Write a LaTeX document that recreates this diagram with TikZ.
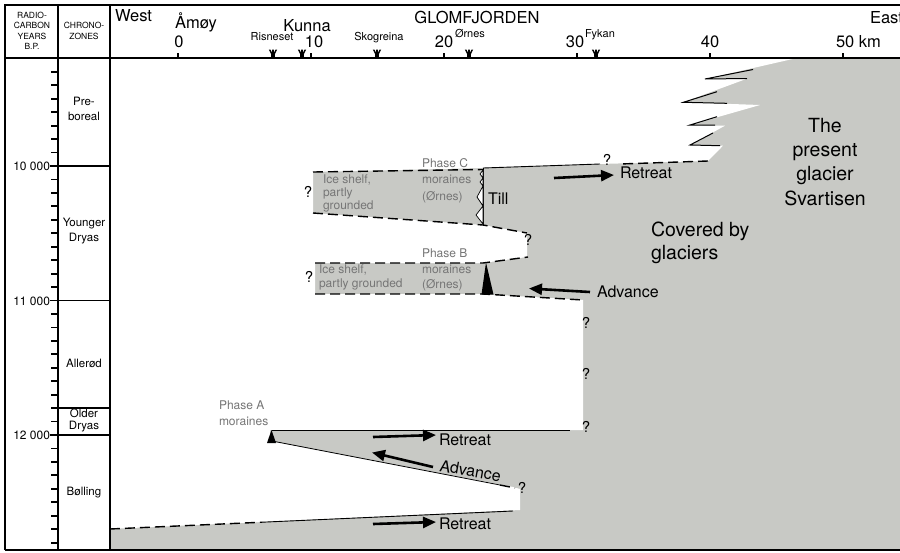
\documentclass[tikz,border=0pt]{standalone}
\usepackage{fontspec}
\setmainfont{TeX Gyre Heros}
\usetikzlibrary{arrows.meta}
\definecolor{ice}{RGB}{200,201,197}
\definecolor{softtext}{RGB}{118,118,118}
\newcommand{\fsz}[2]{\fontsize{#1}{#2}\selectfont}
\newcommand{\ytick}[1]{\fill[black] (51,#1-0.9) rectangle (58.6,#1+0.9);}
\begin{document}
\begin{tikzpicture}[x=1pt,y=-1pt,
  txt/.style={inner sep=0pt, outer sep=0pt},
  head/.style={txt, font=\fsz{16.5}{19}, anchor=base},
  place/.style={txt, font=\fsz{11}{13}, anchor=base},
  colhead/.style={txt, font=\fsz{8.5}{10.5}, align=center},
  zone/.style={txt, font=\fsz{11.5}{15}, align=center},
  year/.style={txt, font=\fsz{12}{14}, anchor=east},
  soft/.style={txt, font=\fsz{12}{14}, text=softtext, anchor=base west},
  big/.style={txt, font=\fsz{19.5}{24}, anchor=base west},
  bigc/.style={txt, font=\fsz{19.5}{24}, anchor=base},
  move/.style={txt, font=\fsz{16}{18}, anchor=base west},
  query/.style={txt, font=\fsz{15}{17}},
  frameline/.style={line width=1.3pt},
  limit/.style={line width=1.4pt, dash pattern=on 10pt off 5pt},
  front/.style={line width=0.9pt},
  bigarrow/.style={line width=2.6pt, -{Triangle[length=13pt,width=11pt]}},
  placemark/.pic={\fill (-1.6,0) -- (1.6,0) -- (2,-4.5) -- (4.2,-9) -- (2.6,-9) -- (0.8,-5.5) -- (0.8,-9) -- (-0.8,-9) -- (-0.8,-5.5) -- (-2.6,-9) -- (-4.2,-9) -- (-2,-4.5) -- cycle;}
]
\useasboundingbox (0,0) rectangle (900,552);
\fill[white] (0,0) rectangle (900,552);

% ice-covered area and ice-free area
\fill[ice] (110,58) rectangle (905,550);
\fill[white] (110,58) -- (797,58) -- (705,79) -- (748,78.3) -- (683,102.3) -- (760,105)
  -- (690,125) -- (725,125.7) -- (690,145) -- (723,145.7) -- (708,161) -- (600,164)
  -- (483,168) -- (313,172) -- (313,213) -- (483,225) -- (527,233) -- (527,257)
  -- (483,263) -- (315,263) -- (315,294) -- (483,294) -- (583,300) -- (583,430)
  -- (270,430) -- (270,441) -- (513,487) -- (520,489) -- (520,510) -- (110,529) -- cycle;

% interfingering teeth
\draw[line width=1pt] (753,69.5) -- (705,79) -- (747,78.5);
\draw[line width=1pt] (717,91.7) -- (683.3,102.3) -- (727,103.3);
\draw[line width=1pt] (717,116.7) -- (690,125) -- (715,125);
\draw[line width=1pt] (713,133) -- (690,145) -- (720,145.7);

% ice limits
\draw[limit] (708,161) -- (620,164);
\draw[front] (600,164) -- (483,168);
\draw[limit] (313,172) -- (483,169.5);
\draw[limit] (313,213) -- (483,225) -- (527,233);
\draw[front] (483,168) -- (483,225);
\draw[limit] (315,263) -- (483,263) -- (528,257);
\draw[limit] (315,294) -- (483,294) -- (583,300);
\draw[line width=0.8pt] (272,430) -- (570,430);
\draw[line width=0.8pt] (272,441) -- (500,485);
\draw[limit] (500,485) -- (515,488);
\draw[limit] (110,529) -- (262,522.2);
\draw[line width=0.9pt] (262,522.2) -- (513,511);

% till symbol
\filldraw[fill=white, line width=0.7pt] (483,170) -- (480,174) -- (483,178) -- (480,182) -- (483,186)
  -- (477,197) -- (483,206) -- (476,215) -- (483,224) -- cycle;

% moraines
\fill (486,262.5) -- (481.5,294.5) -- (493.5,294.5) -- cycle;
\fill (271.5,430) -- (267,443) -- (276,443) -- cycle;

% arrows
\coordinate (r1a) at (554,178); \coordinate (r1b) at (614,175);
\coordinate (abA) at (590,292); \coordinate (abB) at (529,288.5);
\coordinate (r2a) at (373,437); \coordinate (r2b) at (436,435);
\coordinate (aaA) at (433,467); \coordinate (aaB) at (372,452.5);
\coordinate (r3a) at (373,524); \coordinate (r3b) at (436,522);
\draw[bigarrow] (r1a) -- (r1b);
\draw[bigarrow] (abA) -- (abB);
\draw[bigarrow] (r2a) -- (r2b);
\draw[bigarrow] (aaA) -- (aaB);
\draw[bigarrow] (r3a) -- (r3b);

% frame
\draw[frameline] (5,550) -- (5,5) -- (905,5);
\draw[frameline] (5,550) -- (905,550);
\draw[line width=1.8pt] (5,58) -- (905,58);
\draw[line width=1.2pt] (58,5) -- (58,550);
\draw[line width=1.2pt] (110,5) -- (110,550);

% time axis (ticks every 100 years)
\ytick{71.85}\ytick{85.3}\ytick{98.75}\ytick{112.2}\ytick{125.65}\ytick{139.1}\ytick{152.55}
\ytick{179.45}\ytick{192.9}\ytick{206.35}\ytick{219.8}\ytick{233.25}\ytick{246.7}\ytick{260.15}
\ytick{273.6}\ytick{287.05}
\ytick{313.95}\ytick{327.4}\ytick{340.85}\ytick{354.3}\ytick{367.75}\ytick{381.2}\ytick{394.65}
\ytick{408.1}\ytick{421.55}
\ytick{448.45}\ytick{461.9}\ytick{475.35}\ytick{488.8}\ytick{502.25}\ytick{515.7}\ytick{529.15}
\ytick{542.6}
\draw[line width=1.3pt] (50,166) -- (110,166);
\draw[line width=1.3pt] (50,300.5) -- (110,300.5);
\draw[line width=1.3pt] (58,408) -- (110,408);
\draw[line width=1.3pt] (50,435) -- (110,435);

% distance axis
\fill[black] (177.3,58) rectangle (178.9,52.5);
\fill[black] (310.3,58) rectangle (311.9,52.5);
\fill[black] (443.3,58) rectangle (444.9,52.5);
\fill[black] (576.3,58) rectangle (577.9,52.5);
\fill[black] (709.3,58) rectangle (710.9,52.5);
\fill[black] (842.3,58) rectangle (843.9,52.5);
\pic at (273,58.5) {placemark};
\pic at (302,58.5) {placemark};
\pic at (377,58.5) {placemark};
\pic at (469,58.5) {placemark};
\pic at (596,58.5) {placemark};

% header texts
\node[colhead] (radio) at (32,31) {RADIO-\\CARBON\\YEARS\\B.P.};
\node[colhead] (chrono) at (84,31) {CHRONO-\\ZONES};
\node[head, anchor=base west] (west) at (115,21) {West};
\node[head] (amoy) at (196,28) {Åmøy};
\node[head] (kunna) at (307,31) {Kunna};
\node[head] (glom) at (477,23) {GLOMFJORDEN};
\node[head, anchor=base west] (east) at (870,23) {East};
\node[head] (n0) at (179,47) {0};
\node[head] (n10) at (314,47) {10};
\node[head] (n20) at (444,47) {20};
\node[head] (n30) at (575,47) {30};
\node[head] (n40) at (710,47) {40};
\node[head, anchor=base west] (n50) at (836,47) {50 km};
\node[place] (risneset) at (272,40) {Risneset};
\node[place] (skogreina) at (379,40) {Skogreina};
\node[place, anchor=base west] (ornes) at (455,37) {Ørnes};
\node[place, anchor=base west] (fykan) at (585,37) {Fykan};

% chronozones and years
\node[zone] (preb) at (84,109) {Pre-\\boreal};
\node[zone] (yd) at (84,231) {Younger\\Dryas};
\node[zone] (all) at (84,363) {Allerød};
\node[zone, font=\fsz{11.5}{12}] (od) at (84,420) {Older\\Dryas};
\node[zone] (bol) at (84,493) {Bølling};
\node[year] (y10) at (50,166.5) {10 000};
\node[year] (y11) at (50,301) {11 000};
\node[year] (y12) at (50,435.5) {12 000};

% phase labels
\node[soft] (pc1) at (422,167) {Phase C};
\node[soft] (pc2) at (422,183) {moraines};
\node[soft] (pc3) at (422,200) {(Ørnes)};
\node[soft] (ic1) at (323,183) {Ice shelf,};
\node[soft] (ic2) at (323,196) {partly};
\node[soft] (ic3) at (323,209) {grounded};
\node[txt, font=\fsz{16}{18}, anchor=base west] (till) at (488,204) {Till};
\node[soft] (pb1) at (422,257) {Phase B};
\node[soft] (pb2) at (422,273) {moraines};
\node[soft] (pb3) at (422,288.5) {(Ørnes)};
\node[soft] (ib1) at (319,273) {Ice shelf,};
\node[soft] (ib2) at (319,287) {partly grounded};
\node[soft] (pa1) at (219,409) {Phase A};
\node[soft] (pa2) at (219,425) {moraines};

% big labels
\node[big] (cov1) at (651,236) {Covered by};
\node[big] (cov2) at (651,259) {glaciers};
\node[bigc] (sv1) at (825,132) {The};
\node[bigc] (sv2) at (825,156) {present};
\node[bigc] (sv3) at (825,180.5) {glacier};
\node[bigc] (sv4) at (825,205) {Svartisen};

% movement labels
\node[move] (ret1) at (620,178.5) {Retreat};
\node[move] (adv1) at (597,297.5) {Advance};
\node[move] (ret2) at (439,445) {Retreat};
\node[move, rotate=-10] (adv2) at (439,471) {Advance};
\node[move] (ret3) at (439,529) {Retreat};

% question marks
\node[query] (q1) at (308,192) {?};
\node[query] (q2) at (309,277) {?};
\node[query] (q3) at (607,160) {?};
\node[query] (q4) at (528,240) {?};
\node[query] (q5) at (586,323) {?};
\node[query] (q6) at (586,374) {?};
\node[query] (q7) at (586,427) {?};
\node[query] (q8) at (522,488) {?};
\end{tikzpicture}
\end{document}
